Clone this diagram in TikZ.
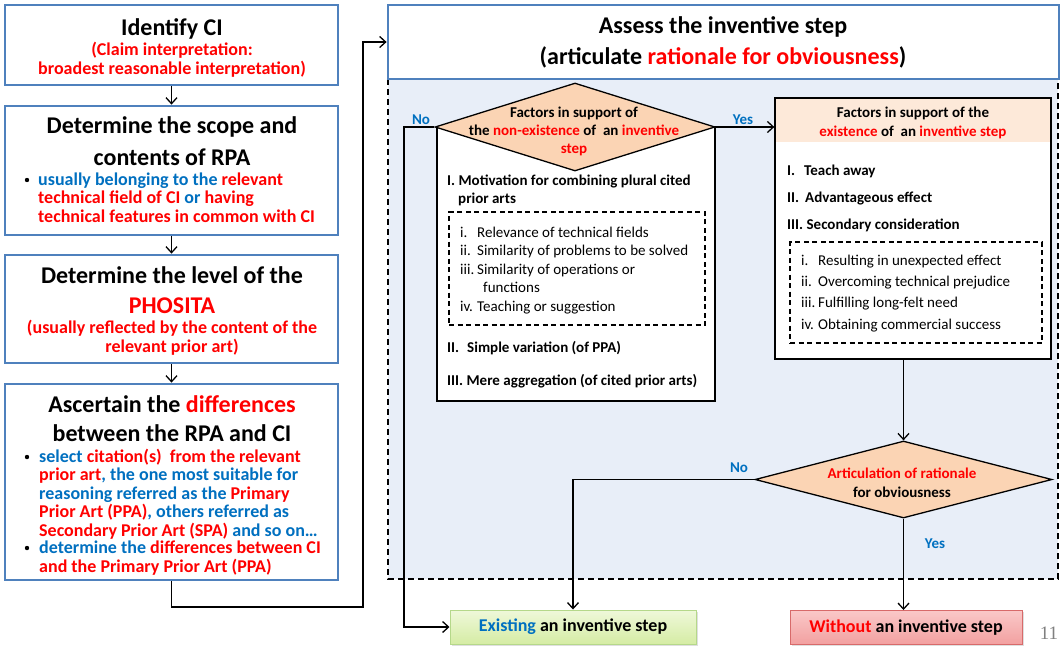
\documentclass[tikz,border=0pt]{standalone}
\usepackage{fontspec}
\setmainfont{Carlito}
\newfontfamily\pagefont{Liberation Serif}
\usetikzlibrary{arrows.meta,shapes.geometric,shadows}

\definecolor{boxblue}{HTML}{4F81BD}
\definecolor{hlred}{HTML}{FF0000}
\definecolor{hlblue}{HTML}{0070C0}
\definecolor{areafill}{HTML}{E8EEF8}
\definecolor{peach}{HTML}{FBD4B4}
\definecolor{peachlight}{HTML}{FDE9D9}
\definecolor{okgreen}{HTML}{B5D88A}
\definecolor{oktop}{HTML}{EFF8DA}
\definecolor{okbottom}{HTML}{D5ECA4}
\definecolor{nored}{HTML}{D86A6A}
\definecolor{notop}{HTML}{FAC8C8}
\definecolor{nobottom}{HTML}{F2A0A0}

\newcommand{\hred}[1]{\textcolor{hlred}{#1}}
\newcommand{\hblue}[1]{\textcolor{hlblue}{#1}}
\newcommand{\fsz}[2]{\fontsize{#1pt}{#2pt}\selectfont}

% multi-line nodes are placed by the baseline of their last line
\tikzset{
  flow/.style={line width=1.3pt, -{Straight Barb[length=6pt,width=11pt]}},
  stepbox/.style={draw=boxblue, line width=2.8pt, fill=white, minimum width=333pt},
  factorbox/.style={draw=black, line width=1.3pt, fill=white},
  listbox/.style={draw=black, line width=1.1pt, dash pattern=on 5pt off 3.5pt},
  areabox/.style={fill=areafill, line width=1.5pt, dash pattern=on 6pt off 4pt},
  decision/.style={diamond, draw=black, line width=1.3pt, fill=peach, inner sep=0pt},
  endbox/.style={line width=1pt, minimum height=34pt, inner sep=0pt, font=\bfseries\fsz{18}{18},
    drop shadow={opacity=0.25, shadow xshift=1.5pt, shadow yshift=-1.5pt}},
  title/.style={inner sep=0pt, anchor=base, align=center, font=\bfseries\fsz{24}{30}},
  sub/.style={inner sep=0pt, anchor=base, align=center, font=\bfseries\fsz{18}{18.5}},
  bullet/.style={inner sep=0pt, anchor=base west, align=left, font=\bfseries\fsz{18}{18.5}},
  dtxt/.style={inner sep=0pt, anchor=base, align=center, font=\bfseries\fsz{15}{18.5}},
  itm/.style={inner sep=0pt, anchor=base west, align=left, font=\bfseries\fsz{15}{18}},
  sitm/.style={inner sep=0pt, anchor=base west, align=left, font=\fsz{15}{18.5}},
  lbl/.style={inner sep=0pt, anchor=base, font=\bfseries\fsz{15}{15}, text=hlblue},
}

\begin{document}
\begin{tikzpicture}[x=1pt,y=-1pt]
\useasboundingbox (0,0) rectangle (1064,651);

% left column
\node[stepbox, minimum height=80pt] (identify) at (171.5,45) {};
\node[stepbox, minimum height=129pt] (scope) at (171.5,170.5) {};
\node[stepbox, minimum height=108pt] (level) at (171.5,309) {};
\node[stepbox, minimum height=196pt] (differ) at (171.5,482) {};

\node[title] (identifyT) at (172,35) {Identify CI};
\node[sub, text=hlred] (identifyS) at (172,74) {(Claim interpretation:\\broadest reasonable interpretation)};

\node[title, font=\bfseries\fsz{24}{32}] (scopeT) at (172,165) {Determine the scope and\\contents of RPA};
\fill (27,180) circle (2.2);
\node[bullet] (scopeB) at (38,222) {\hblue{usually belonging to the} \hred{relevant}\\
  \hred{technical field of CI} \hblue{or} \hred{having}\\\hred{technical features in common with CI}};

\node[title] (levelT) at (172,283) {Determine the level of the};
\node[title, text=hlred] (levelP) at (172,313) {PHOSITA};
\node[sub, text=hlred, font=\bfseries\fsz{18}{19}] (levelS) at (172,352) {(usually reflected by the content of the\\relevant prior art)};

\node[title, font=\bfseries\fsz{24}{29}] (differT) at (172,441) {Ascertain the \hred{differences}\\between the RPA and CI};
\fill (27,457) circle (2.2);
\node[bullet] (differB1) at (39,536) {\hblue{select} \hred{citation(s)\ \ from the relevant}\\
  \hred{prior art}\hblue{, the one most suitable for}\\\hblue{reasoning\ referred as the} \hred{Primary}\\
  \hred{Prior Art (PPA)}\hblue{, others referred as}\\\hred{Secondary Prior Art (SPA)} \hblue{and\ so on…}};
\fill (27,548) circle (2.2);
\node[bullet, font=\bfseries\fsz{18}{19}] (differB2) at (39,572) {\hblue{determine the} \hred{differences between CI}\\\hred{and the Primary Prior Art (PPA)}};

% assessment area
\draw[areabox] (388,79) rectangle (1058,579);
\node[stepbox, minimum width=671pt, minimum height=74pt] (assess) at (723.5,42) {};
\node[title] (assessT) at (723,33) {Assess the inventive step};
\node[title] (assessS) at (723,64) {(articulate \hred{rationale for obviousness})};

% factors against
\node[factorbox, minimum width=278pt, minimum height=274pt] (motive) at (576,264) {};
\node[decision, minimum width=280pt, minimum height=88pt] (nonexist) at (575,127) {};
\node[dtxt, font=\bfseries\fsz{15}{18}] (nonexistT) at (574,153) {Factors in support of\\the \hred{non-existence} of\ \ an \hred{inventive}\\\hred{step}};
\node[itm] (motiveI) at (447,203) {I. Motivation for combining plural cited\\\hspace*{11pt}prior arts};
\node[listbox, minimum width=256pt, minimum height=113pt] (motiveL) at (577,268.5) {};
\node[sitm] (motiveLT) at (460,311) {\makebox[17pt][l]{i.}Relevance of technical fields\\
  \makebox[17pt][l]{ii.}Similarity of problems to be solved\\\makebox[17pt][l]{iii.}Similarity of operations or\\
  \hspace*{23pt}functions\\\makebox[17pt][l]{iv.}Teaching or suggestion};
\node[itm] (motiveII) at (447,352) {\makebox[20pt][l]{II.}Simple variation (of PPA)};
\node[itm] (motiveIII) at (447,385) {III. Mere aggregation (of cited prior arts)};

% factors for
\node[factorbox, minimum width=276pt, minimum height=261pt,
  path picture={\fill[peachlight] (path picture bounding box.north west) rectangle ([yshift=-44pt]path picture bounding box.north east);}]
  (support) at (913,228.5) {};
\node[dtxt, font=\bfseries\fsz{15}{19}] (supportT) at (913,136) {Factors in support of the\\\hred{existence} of\ \ an \hred{inventive step}};
\node[itm, font=\bfseries\fsz{15}{27}] (supportI) at (787,229) {\makebox[17pt][l]{I.}Teach away\\
  \makebox[18pt][l]{II.}Advantageous effect\\III. Secondary consideration};
\node[listbox, minimum width=252pt, minimum height=101pt] (supportL) at (916,292.5) {};
\node[sitm, font=\fsz{15}{21.3}] (supportLT) at (801,329) {\makebox[17pt][l]{i.}Resulting in unexpected\ effect\\
  \makebox[17pt][l]{ii.}Overcoming technical prejudice\\\makebox[17pt][l]{iii.}Fulfilling long-felt need\\
  \makebox[17pt][l]{iv.}Obtaining commercial success};

% rationale
\node[decision, minimum width=297pt, minimum height=77pt] (ration) at (903.5,479.5) {};
\node[dtxt, font=\bfseries\fsz{15}{19}] (rationT) at (902,497) {\hred{Articulation of rationale}\\for obviousness};

% outcomes
\node[endbox, draw=okgreen, top color=oktop, bottom color=okbottom, minimum width=246pt] (hasstep) at (573,627)
  {\hblue{Existing} an inventive step};
\node[endbox, draw=nored, top color=notop, bottom color=nobottom, minimum width=232pt] (lacksstep) at (906,627.5)
  {\hred{Without} an inventive step};
\node[font=\pagefont\fsz{19}{19}, text=gray, anchor=base, inner sep=0pt] (pagenum) at (1049,639) {11};

\node[lbl] (noA) at (421,124) {No};
\node[lbl] (yesA) at (743,124) {Yes};
\node[lbl] (noB) at (739,472) {No};
\node[lbl] (yesB) at (935,548) {Yes};

% connectors
\draw[flow] (identify.south) -- (scope.north);
\draw[flow] (scope.south) -- (level.north);
\draw[flow] (level.south) -- (differ.north);
\coordinate (turn) at (363,607);
\draw[flow] (differ.south) |- (turn) |- (assess.west);
\draw[flow] (nonexist.east) -- (nonexist.east -| support.west);
\coordinate (noturn) at (404,127);
\draw[flow] (nonexist.west) -- (noturn) |- (hasstep.west);
\draw[flow] (ration.north |- support.south) -- (ration.north);
\draw[flow] (ration.west) -| (hasstep.north);
\draw[flow] (ration.south) -- (ration.south |- lacksstep.north);
\end{tikzpicture}
\end{document}
